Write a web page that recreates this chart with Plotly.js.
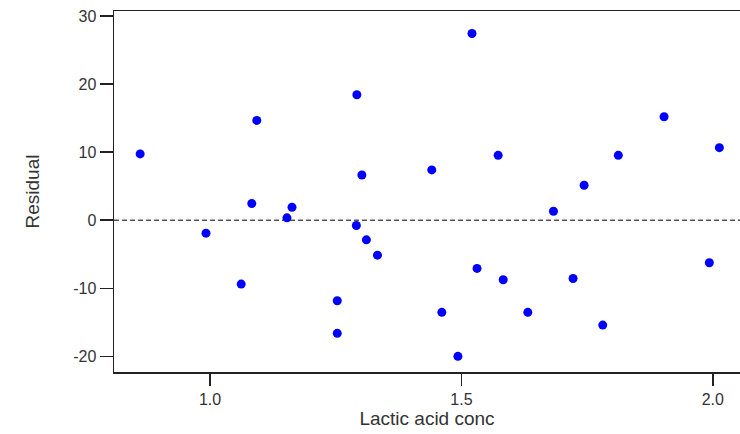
<!DOCTYPE html>
<html>
<head>
<meta charset="utf-8">
<script src="https://cdn.plot.ly/plotly-3.0.1.min.js"></script>
<style>
  html, body { margin: 0; padding: 0; background: #ffffff; }
  #chart { width: 740px; height: 434px; }
</style>
</head>
<body>
<div id="chart"></div>
<script>
// Lactic acid concentration (x) and residuals (y)
const lacticAcidConc = [
  0.861, 1.093, 1.292, 1.302,
  1.521, 1.441, 1.573, 1.744, 1.812, 1.903, 2.013,
  1.083, 1.163, 1.153, 0.992, 1.291, 1.311, 1.333, 1.062, 1.253, 1.253,
  1.683, 1.531, 1.583, 1.722, 1.993, 1.461, 1.632, 1.781, 1.493
];
const residuals = [
  9.74, 14.66, 18.43, 6.65,
  27.42, 7.39, 9.53, 5.13, 9.53, 15.2, 10.66,
  2.45, 1.91, 0.35, -1.9, -0.78, -2.88, -5.13, -9.38, -11.82, -16.61,
  1.32, -7.08, -8.74, -8.55, -6.25, -13.53, -13.53, -15.4, -19.99
];
const xTickVals = [1.0, 1.5, 2.0];
const xTickText = ["1.0", "1.5", "2.0"];
const yTickVals = [-20, -10, 0, 10, 20, 30];
const yTickText = ["-20", "-10", "0", "10", "20", "30"];
const referenceLevel = 0;

const textColor = "#333333";
const axisColor = "#222222";
const fontFamily = "Liberation Sans, Arial, sans-serif";

const trace = {
  type: "scatter",
  mode: "markers",
  x: lacticAcidConc,
  y: residuals,
  marker: { color: "#0000ff", size: 9, line: { width: 0 } },
  hoverinfo: "x+y",
  showlegend: false
};

const layout = {
  width: 740,
  height: 434,
  margin: { l: 114, r: 0, t: 11, b: 62, pad: 0 },
  paper_bgcolor: "#ffffff",
  plot_bgcolor: "#ffffff",
  font: { family: fontFamily, color: textColor, size: 16 },
  xaxis: {
    range: [0.809, 2.054],
    tickmode: "array",
    tickvals: xTickVals,
    ticktext: xTickText,
    ticks: "outside",
    ticklen: 12,
    tickwidth: 1.5,
    tickcolor: axisColor,
    showline: true,
    linecolor: axisColor,
    linewidth: 1.5,
    mirror: true,
    showgrid: false,
    zeroline: false,
    tickfont: { size: 16, color: textColor },
    title: { text: "Lactic acid conc", font: { size: 19, color: textColor }, standoff: 0 }
  },
  yaxis: {
    range: [-22.29, 30.73],
    tickmode: "array",
    tickvals: yTickVals,
    ticktext: yTickText,
    ticks: "outside",
    ticklen: 13,
    tickwidth: 1.5,
    tickcolor: axisColor,
    showline: true,
    linecolor: axisColor,
    linewidth: 1.5,
    showgrid: false,
    zeroline: false,
    tickfont: { size: 16, color: textColor },
    title: { text: "Residual", font: { size: 19, color: textColor }, standoff: 28 }
  },
  shapes: [{
    type: "line",
    xref: "paper", x0: 0, x1: 1,
    yref: "y", y0: referenceLevel, y1: referenceLevel,
    line: { color: "#555555", width: 1.5, dash: "5px,3px" },
    layer: "below"
  }]
};

Plotly.newPlot("chart", [trace], layout, { displayModeBar: false, staticPlot: true });
</script>
</body>
</html>
